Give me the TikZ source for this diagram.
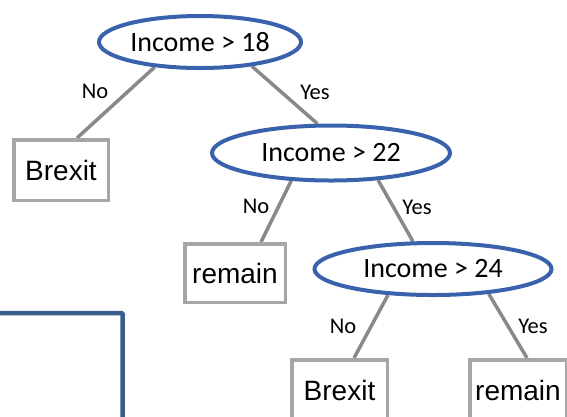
\documentclass[tikz,border=0pt]{standalone}
\usepackage{fontspec}
\setmainfont{Liberation Sans}
\newfontfamily\calibrifont{Carlito}
\usetikzlibrary{shapes.geometric,backgrounds}
\definecolor{testblue}{RGB}{58,98,172}
\definecolor{framblue}{RGB}{56,94,140}
\definecolor{leafgray}{RGB}{166,166,166}
\definecolor{edgegray}{RGB}{137,137,137}
\begin{document}
\begin{tikzpicture}[x=1pt,y=-1pt,
  test/.style={ellipse, draw=testblue, line width=4pt, fill=white, inner sep=0pt,
    font=\calibrifont\fontsize{28pt}{30pt}\selectfont},
  leaf/.style={rectangle, draw=leafgray, line width=3.5pt, fill=white, inner sep=0pt,
    font=\fontsize{28pt}{30pt}\selectfont},
  branch/.style={draw=edgegray, line width=3.5pt},
  answer/.style={inner sep=0pt, font=\calibrifont\fontsize{22.5pt}{24pt}\selectfont}]
\useasboundingbox (0,0) rectangle (567,416);
\clip (0,0) rectangle (567,416);

% partial frame in the lower left corner
\draw[framblue, line width=4.5pt, rounded corners=1pt] (-5,313) -- (122.5,313) -- (122.5,430);

% decision nodes
\node[test, minimum width=202pt, minimum height=52pt] (e1) at (200,42) {Income > 18};
\node[test, minimum width=238pt, minimum height=55pt] (e2) at (331,153) {Income > 22};
\node[test, minimum width=237pt, minimum height=52pt] (e3) at (433,269) {Income > 24};

% outcomes
\node[leaf, minimum width=94.5pt, minimum height=60.5pt] (b1) at (61,170) {Brexit};
\node[leaf, minimum width=100.5pt, minimum height=58.5pt] (r1) at (235,273) {remain};
\node[leaf, minimum width=95.5pt, minimum height=60.5pt] (b2) at (339.5,390) {Brexit};
\node[leaf, minimum width=96.5pt, minimum height=60.5pt] (r2) at (518,390) {remain};

% branches
\begin{pgfonlayer}{background}
\draw[branch] (e1.209) -- ([xshift=16pt]b1.north);
\draw[branch] (e1.335) -- (e2.115);
\draw[branch] (e2.215) -- ([xshift=26pt]r1.north);
\draw[branch] (e2.330) -- (e3.126);
\draw[branch] (e3.210) -- ([xshift=14.5pt]b2.north);
\draw[branch] (e3.336) -- ([xshift=9pt]r2.north);
\end{pgfonlayer}

% branch labels
\node[answer] (n1) at (95,91) {No};
\node[answer] (y1) at (315,92) {Yes};
\node[answer] (n2) at (256,206) {No};
\node[answer] (y2) at (417,207) {Yes};
\node[answer] (n3) at (343,326) {No};
\node[answer] (y3) at (533,326) {Yes};
\end{tikzpicture}
\end{document}
